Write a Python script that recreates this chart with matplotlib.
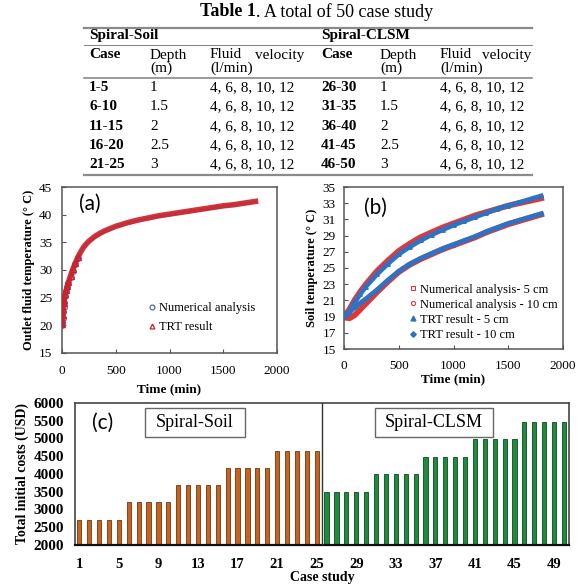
import matplotlib
matplotlib.use("Agg")
import matplotlib.pyplot as plt
import numpy as np
from matplotlib.lines import Line2D
from matplotlib.patches import Rectangle

# ---------------- data ----------------
soil_cases = ["1-5", "6-10", "11-15", "16-20", "21-25"]
clsm_cases = ["26-30", "31-35", "36-40", "41-45", "46-50"]
depths = ["1", "1.5", "2", "2.5", "3"]
velocities = "4, 6, 8, 10, 12"

# (a) outlet fluid temperature
time_a = [0, 2, 5, 10, 15, 20, 30, 40, 50, 60, 80, 100, 125, 150, 175, 200,
          225, 250, 300, 350, 400, 450, 500, 600, 700, 800, 900, 1000, 1100,
          1200, 1300, 1400, 1500, 1600, 1700, 1800]
num_a = [20.0, 20.6, 21.3, 22.4, 23.3, 24.1, 25.3, 26.2, 27.0, 27.6, 28.8,
         29.9, 31.1, 32.2, 33.2, 34.0, 34.6, 35.1, 35.9, 36.5, 37.0, 37.4,
         37.8, 38.4, 38.9, 39.3, 39.7, 40.0, 40.3, 40.6, 40.9, 41.2, 41.5,
         41.8, 42.0, 42.3]
trt_a = [20.2, 21.0, 21.9, 23.0, 24.0, 24.6, 25.6, 26.4, 27.1, 27.8, 29.0,
         30.1, 31.3, 32.4, 33.3, 34.1, 34.7, 35.2, 36.0, 36.6, 37.1, 37.5,
         37.9, 38.5, 39.0, 39.4, 39.8, 40.1, 40.4, 40.7, 41.0, 41.3, 41.6,
         41.8, 42.1, 42.4]

# (b) soil temperature at 5 cm and 10 cm
time_b = [0, 50, 100, 150, 200, 300, 400, 500, 600, 700, 800, 900, 1000,
          1100, 1200, 1300, 1400, 1500, 1600, 1700, 1800]
num_5 = [19.0, 19.9, 21.1, 22.1, 23.0, 24.6, 25.9, 27.1, 28.0, 28.8, 29.4,
         30.0, 30.5, 31.0, 31.5, 31.9, 32.3, 32.7, 33.0, 33.3, 33.6]
trt_5 = [19.0, 19.7, 20.8, 21.8, 22.7, 24.2, 25.5, 26.7, 27.6, 28.4, 29.1,
         29.7, 30.3, 30.8, 31.3, 31.8, 32.3, 32.7, 33.1, 33.5, 33.9]
num_10 = [18.9, 18.8, 19.2, 19.9, 20.6, 22.0, 23.3, 24.5, 25.4, 26.1, 26.7,
          27.3, 27.8, 28.3, 28.8, 29.4, 29.9, 30.4, 30.8, 31.2, 31.6]
trt_10 = [19.1, 19.5, 20.2, 20.7, 21.2, 22.3, 23.5, 24.6, 25.5, 26.2, 26.8,
          27.4, 27.9, 28.4, 28.9, 29.5, 30.0, 30.5, 30.9, 31.3, 31.7]

# (c) total initial costs per depth (five fluid velocities each)
cost_soil = [2700, 3200, 3700, 4170, 4650]
cost_clsm = [3500, 4000, 4480, 4980, 5470]
n_velocities = 5

# ---------------- figure ----------------
W, H = 581, 588
fig = plt.figure(figsize=(W / 100, H / 100), dpi=100)
SERIF = "Liberation Serif"
SANS = "Lato"
plt.rcParams["font.family"] = SERIF


def fx(px):
    return px / W


def fy(py):
    return 1 - py / H


def axes_px(left, top, right, bottom):
    return fig.add_axes([fx(left), fy(bottom), (right - left) / W, (bottom - top) / H])


# ---------------- table ----------------
renderer = fig.canvas.get_renderer()
t1 = fig.text(fx(200), fy(12), "Table 1", fontsize=13, fontweight="bold",
              ha="left", va="center", family=SERIF)
bb = t1.get_window_extent(renderer)
fig.text(bb.x1 / W, fy(12), ". A total of 50 case study", fontsize=13,
         ha="left", va="center", family=SERIF)

rule_col = "#8a8a8a"
for y, lw in [(28, 1.6), (45, 0.8), (78, 1.2), (175, 1.6)]:
    fig.add_artist(Line2D([fx(84), fx(532)], [fy(y), fy(y)], color=rule_col, lw=lw))

fs_t = 11
col_case = [89, 321]
col_depth = [150, 380]
col_fluid = [210, 440]
col_fluid_end = [304, 531]
fig.text(fx(89), fy(36), "Spiral-Soil", fontsize=fs_t, fontweight="bold", va="center")
fig.text(fx(321), fy(36), "Spiral-CLSM", fontsize=fs_t, fontweight="bold", va="center")
for k in range(2):
    fig.text(fx(col_case[k]), fy(55), "Case", fontsize=fs_t, fontweight="bold", va="center")
    fig.text(fx(col_depth[k]), fy(55), "Depth", fontsize=fs_t, va="center")
    fig.text(fx(col_depth[k]), fy(68), "(m)", fontsize=fs_t, va="center")
    fig.text(fx(col_fluid[k]), fy(55), "Fluid", fontsize=fs_t, va="center")
    fig.text(fx(col_fluid_end[k]), fy(55), "velocity", fontsize=fs_t, va="center", ha="right")
    fig.text(fx(col_fluid[k]), fy(68), "(l/min)", fontsize=fs_t, va="center")

row_y = [88, 107, 127, 146, 165]
for i, y in enumerate(row_y):
    for k, cases in enumerate([soil_cases, clsm_cases]):
        fig.text(fx(col_case[k]), fy(y), cases[i], fontsize=fs_t, fontweight="bold", va="center")
        fig.text(fx(col_depth[k]), fy(y), depths[i], fontsize=fs_t, va="center")
        fig.text(fx(col_fluid[k]), fy(y), velocities, fontsize=fs_t, va="center")


def style_axes(ax, pad_x, pad_y):
    for s in ax.spines.values():
        s.set_color("#555555")
        s.set_linewidth(1.1)
    ax.tick_params(direction="in", length=3, width=0.8, color="#555555",
                   labelsize=9.5)
    ax.tick_params(axis="x", pad=pad_x)
    ax.tick_params(axis="y", pad=pad_y)
    for lab in ax.get_xticklabels() + ax.get_yticklabels():
        lab.set_family(SERIF)


# ---------------- (a) ----------------
red_a = "#CC2129"
blue_a = "#5468A8"
n_early = 14
ax_a = axes_px(62, 187, 277, 353)
ax_a.plot(time_a, num_a, color=blue_a, lw=2.5, alpha=0.6, zorder=2)
ax_a.plot(time_a[:n_early], num_a[:n_early], "o", ms=4, mfc="none", mec=blue_a,
          mew=0.9, zorder=3)
ax_a.plot(time_a, trt_a, color=red_a, lw=4.0, alpha=0.9, zorder=4)
ax_a.plot(time_a[:n_early], trt_a[:n_early], "^", ms=4, mfc="none", mec=red_a,
          mew=0.9, zorder=5)
ax_a.set_xlim(0, 2000)
ax_a.set_ylim(15, 45)
ax_a.set_xticks([0, 500, 1000, 1500, 2000])
ax_a.set_yticks([15, 20, 25, 30, 35, 40, 45])
style_axes(ax_a, 9, 7)
ax_a.set_xlabel("Time (min)", fontsize=9.5, fontweight="bold", labelpad=4)
ax_a.set_ylabel("Outlet fluid temperature (° C)", fontsize=9, fontweight="bold", labelpad=3)
ax_a.text(0.08, 0.9, "(a)", transform=ax_a.transAxes, fontsize=15, family=SANS,
          va="center", ha="left")
h_a = [Line2D([], [], ls="none", marker="o", ms=3.5, mfc="none", mec=blue_a, mew=0.9),
       Line2D([], [], ls="none", marker="^", ms=3.5, mfc="none", mec=red_a, mew=0.9)]
ax_a.legend(h_a, ["Numerical analysis", "TRT result"], loc="lower left",
            bbox_to_anchor=(0.4, 0.12), frameon=False, fontsize=9,
            handlelength=0.6, handletextpad=0.3, labelspacing=0.55,
            borderpad=0, borderaxespad=0)

# ---------------- (b) ----------------
red_b = "#E0383A"
blue_b = "#2F72C2"
ax_b = axes_px(344, 187, 563, 349)
ax_b.plot(time_b, num_5, color=red_b, lw=4.2, zorder=2)
ax_b.plot(time_b, num_10, color=red_b, lw=4.2, zorder=2)
ax_b.plot(time_b, trt_5, color=blue_b, lw=3.4, zorder=3)
ax_b.plot(time_b, trt_10, color=blue_b, lw=3.4, zorder=3)
ax_b.plot(time_b, trt_5, "^", ms=2.5, color=blue_b, zorder=3)
ax_b.plot(time_b, trt_10, "D", ms=2.2, color=blue_b, zorder=3)
ax_b.set_xlim(0, 2000)
ax_b.set_ylim(15, 35)
ax_b.set_xticks([0, 500, 1000, 1500, 2000])
ax_b.set_yticks(list(range(15, 36, 2)))
style_axes(ax_b, 8, 6)
ax_b.set_xlabel("Time (min)", fontsize=9.5, fontweight="bold", labelpad=1)
ax_b.set_ylabel("Soil temperature (° C)", fontsize=9, fontweight="bold", labelpad=3)
ax_b.text(0.09, 0.87, "(b)", transform=ax_b.transAxes, fontsize=15, family=SANS,
          va="center", ha="left")
h_b = [Line2D([], [], ls="none", marker="s", ms=3, mfc="none", mec=red_b, mew=0.8),
       Line2D([], [], ls="none", marker="o", ms=3, mfc="none", mec=red_b, mew=0.8),
       Line2D([], [], ls="none", marker="^", ms=3.5, color=blue_b),
       Line2D([], [], ls="none", marker="D", ms=2.8, color=blue_b)]
ax_b.legend(h_b, ["Numerical analysis- 5 cm", "Numerical analysis - 10 cm",
                  "TRT result - 5 cm", "TRT result - 10 cm"],
            loc="lower left", bbox_to_anchor=(0.3, 0.05), frameon=False,
            fontsize=9, handlelength=0.5, handletextpad=0.3, labelspacing=0.25,
            borderpad=0, borderaxespad=0)

# ---------------- (c) ----------------
orange = "#C8631F"
orange_edge = "#6E3410"
green = "#1F8B3D"
green_edge = "#0D4A1E"
soil_costs = np.repeat(cost_soil, n_velocities)
clsm_costs = np.repeat(cost_clsm, n_velocities)
soil_idx = np.arange(1, len(soil_costs) + 1)
clsm_idx = np.arange(len(soil_costs) + 1, len(soil_costs) + len(clsm_costs) + 1)

ax_c = axes_px(75, 403, 569, 545)
ax_c.bar(soil_idx, soil_costs - 2000, bottom=2000, width=0.42, color=orange,
         edgecolor=orange_edge, lw=0.6, zorder=2)
ax_c.bar(clsm_idx, clsm_costs - 2000, bottom=2000, width=0.42, color=green,
         edgecolor=green_edge, lw=0.6, zorder=2)
ax_c.axvline(len(soil_costs) + 0.5, color="#333333", lw=1.0, zorder=3)
ax_c.set_xlim(0.565, 50.51)
ax_c.set_ylim(2000, 6000)
ax_c.set_xticks(list(range(1, 51, 4)))
ax_c.set_yticks(list(range(2000, 6001, 500)))
for s in ax_c.spines.values():
    s.set_color("#444444")
    s.set_linewidth(1.2)
ax_c.spines["bottom"].set_color("#111111")
ax_c.spines["bottom"].set_linewidth(1.6)
ax_c.tick_params(length=0, pad=9)
ax_c.tick_params(axis="x", labelsize=10.5)
ax_c.tick_params(axis="y", labelsize=11, pad=8)
for lab in ax_c.get_xticklabels() + ax_c.get_yticklabels():
    lab.set_family(SERIF)
    lab.set_fontweight("bold")
ax_c.set_xlabel("Case study", fontsize=10, fontweight="bold", labelpad=0)
ax_c.set_ylabel("Total initial costs (USD)", fontsize=10, fontweight="bold", labelpad=3)

for (x0, x1, label) in [(145, 245, "Spiral-Soil"), (375, 493, "Spiral-CLSM")]:
    fig.add_artist(Rectangle((fx(x0), fy(437)), (x1 - x0) / W, 29 / H,
                             transform=fig.transFigure, fill=True, fc="white",
                             ec="#666666", lw=1.0, zorder=5))
    fig.text(fx((x0 + x1) / 2), fy(422.5), label, fontsize=13, ha="center",
             va="center", family=SERIF, zorder=6)

fig.text(fx(92), fy(423), "(c)", fontsize=15, family=SANS, va="center", ha="left")

fig.savefig("out.png", dpi=100)
